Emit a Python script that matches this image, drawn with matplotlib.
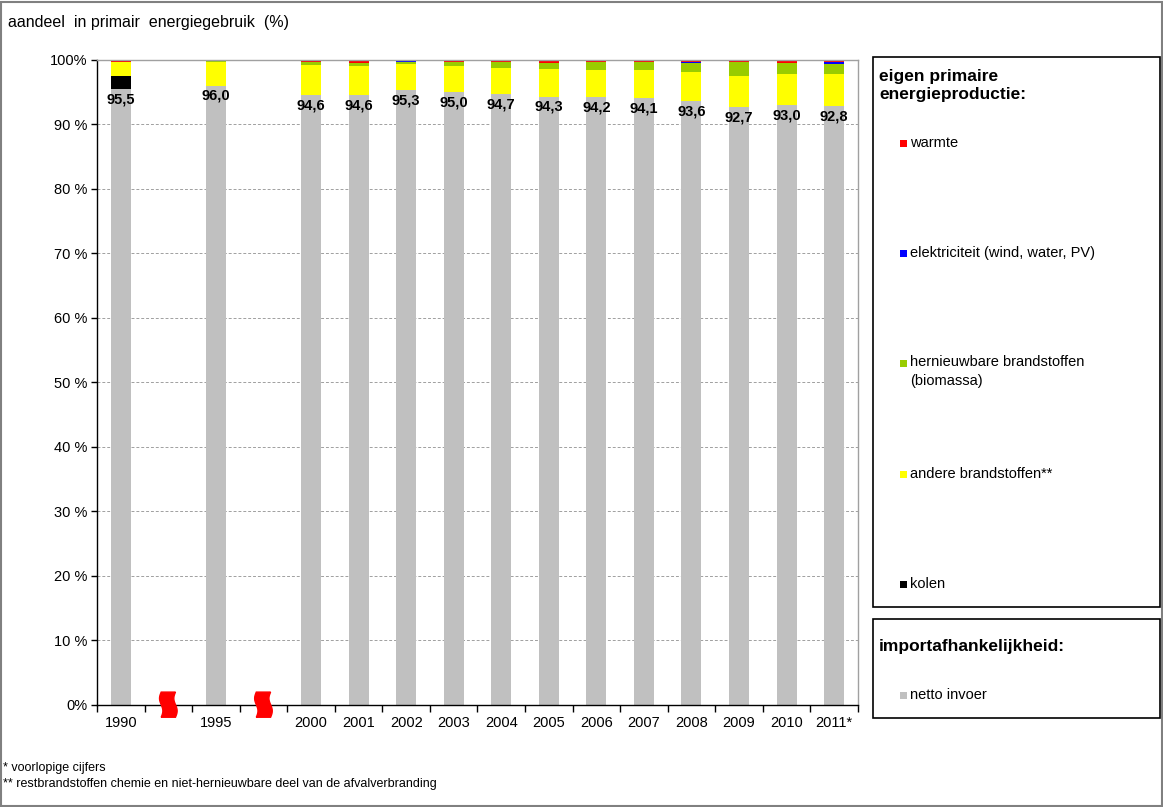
import matplotlib.pyplot as plt
import numpy as np
from matplotlib.patches import Rectangle, Polygon

plt.rcParams['font.family'] = ['Liberation Sans', 'DejaVu Sans']

# categories (None = axis break)
years = ['1990', None, '1995', None, '2000', '2001', '2002', '2003', '2004',
         '2005', '2006', '2007', '2008', '2009', '2010', '2011*']

netto_invoer = [95.5, 0, 96.0, 0, 94.6, 94.6, 95.3, 95.0, 94.7, 94.3, 94.2, 94.1, 93.6, 92.7, 93.0, 92.8]
kolen = [2.0, 0, 0, 0, 0, 0, 0, 0, 0, 0, 0, 0, 0, 0, 0, 0]
andere = [2.2, 0, 3.7, 0, 4.6, 4.5, 4.1, 4.0, 4.1, 4.3, 4.2, 4.3, 4.5, 4.8, 4.8, 5.0]
biomassa = [0, 0, 0.3, 0, 0.5, 0.5, 0.35, 0.65, 0.85, 0.9, 1.35, 1.35, 1.45, 2.25, 1.7, 1.5]
elektriciteit = [0, 0, 0, 0, 0, 0, 0.25, 0, 0, 0, 0, 0, 0.2, 0, 0, 0.45]
warmte = [0.3, 0, 0, 0, 0.3, 0.4, 0, 0.35, 0.35, 0.5, 0.25, 0.25, 0.25, 0.25, 0.5, 0.25]

series = [
    ('netto invoer', netto_invoer, '#C0C0C0'),
    ('kolen', kolen, '#000000'),
    ('andere brandstoffen**', andere, '#FFFF00'),
    ('hernieuwbare brandstoffen\n(biomassa)', biomassa, '#99CC00'),
    ('elektriciteit (wind, water, PV)', elektriciteit, '#0000FF'),
    ('warmte', warmte, '#FF0000'),
]

fig = plt.figure(figsize=(11.63, 8.07), dpi=100)
ax = fig.add_axes([0.0834, 0.1264, 0.6543, 0.7993])

x = np.arange(len(years))
bottom = np.zeros(len(years))
for name, vals, col in series:
    vals = np.array(vals, dtype=float)
    ax.bar(x, vals, 0.42, bottom=bottom, color=col, edgecolor='none', zorder=2)
    bottom += vals

for i, y in enumerate(years):
    if y is None:
        continue
    ax.text(x[i], netto_invoer[i] - 0.5, f"{netto_invoer[i]:.1f}".replace('.', ','),
            ha='center', va='top', fontsize=10.5, fontweight='bold', zorder=3)

ax.set_xlim(-0.5, len(years) - 0.5)
ax.set_ylim(0, 100)
ax.set_yticks(np.arange(0, 101, 10))
ax.set_yticklabels(['0%'] + [f'{v} %' for v in range(10, 100, 10)] + ['100%'], fontsize=10.5)
ax.yaxis.grid(True, linestyle=(0, (3, 2)), color='#A0A0A0', linewidth=0.7, zorder=0)
ax.tick_params(axis='y', length=4, width=1, pad=3)

ax.set_xticks(x)
ax.set_xticklabels([y if y else '' for y in years], fontsize=10.5)
ax.set_xticks(np.arange(-0.5, len(years)), minor=True)
ax.tick_params(axis='x', which='major', length=0, pad=8)
ax.tick_params(axis='x', which='minor', length=5, width=1)

for s in ['left', 'bottom']:
    ax.spines[s].set_color('black')
    ax.spines[s].set_linewidth(1)
for s in ['top', 'right']:
    ax.spines[s].set_color('#A0A0A0')
    ax.spines[s].set_linewidth(1)

# red break markers on the x axis
for i, y in enumerate(years):
    if y is not None:
        continue
    t = np.linspace(0, 1, 30)
    wave = 0.035 * np.sin(t * 2 * np.pi)
    yy = -1.9 + 3.9 * t
    left = np.column_stack([i - 0.15 + wave, yy])
    right = np.column_stack([i + 0.15 + wave, yy])[::-1]
    ax.add_patch(Polygon(np.vstack([left, right]), closed=True, color='#FF0000',
                         clip_on=False, zorder=5))

# title / footnotes
fig.text(0.007, 0.972, 'aandeel  in primair  energiegebruik  (%)', fontsize=11.5, va='center')
fig.text(0.003, 0.048, '* voorlopige cijfers', fontsize=9, va='center')
fig.text(0.003, 0.029, '** restbrandstoffen chemie en niet-hernieuwbare deel van de afvalverbranding',
         fontsize=9, va='center')

# outer frame
fig.patches.append(Rectangle((0.001, 0.001), 0.998, 0.997, transform=fig.transFigure,
                             fill=False, edgecolor='#808080', linewidth=1.5))

# legend boxes
W, H = 1163, 807
def fx(px):
    return px / W
def fy(py):
    return 1 - py / H

fig.patches.append(Rectangle((fx(873), fy(607)), fx(287), (607 - 57) / H, transform=fig.transFigure,
                             fill=False, edgecolor='black', linewidth=1.2))
fig.patches.append(Rectangle((fx(873), fy(718)), fx(287), (718 - 619) / H, transform=fig.transFigure,
                             fill=False, edgecolor='black', linewidth=1.2))
fig.text(fx(879), fy(86), 'eigen primaire\nenergieproductie:', fontsize=12.5, fontweight='bold',
         va='center', linespacing=1.25)
fig.text(fx(879), fy(647), 'importafhankelijkheid:', fontsize=12.5, fontweight='bold', va='center')

legend_y = {'warmte': 143, 'elektriciteit (wind, water, PV)': 253,
            'hernieuwbare brandstoffen\n(biomassa)': 363, 'andere brandstoffen**': 474,
            'kolen': 584, 'netto invoer': 695}
for name, vals, col in series:
    py = legend_y[name]
    fig.patches.append(Rectangle((fx(900), fy(py + 3.5)), fx(7), 7 / H, transform=fig.transFigure,
                                 facecolor=col, edgecolor='none'))
    if '\n' in name:
        fig.text(fx(910), fy(py - 8), name, fontsize=10.5, va='top', linespacing=1.5)
    else:
        fig.text(fx(910), fy(py), name, fontsize=10.5, va='center')

fig.savefig('out.png', dpi=100)
